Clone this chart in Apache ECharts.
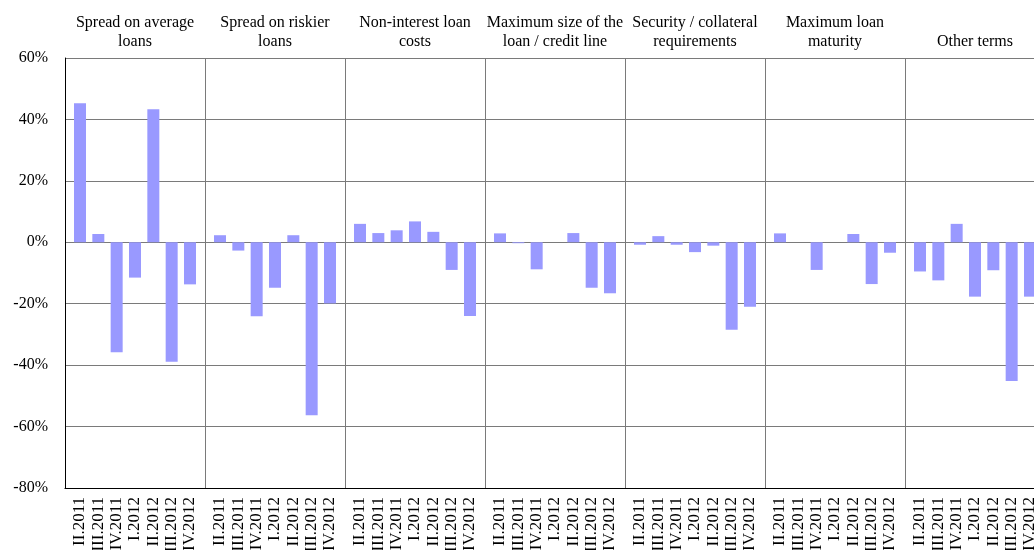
<!DOCTYPE html>
<html>
<head>
<meta charset="utf-8">
<script src="https://cdn.jsdelivr.net/npm/echarts@6/dist/echarts.min.js"></script>
<style>
  html, body { margin: 0; padding: 0; background: #fff; }
  #chart { width: 1034px; height: 550px; }
</style>
</head>
<body>
<div id="chart"></div>
<script>
// Loan terms groups and survey quarters
const groups = [
  'Spread on average\nloans',
  'Spread on riskier\nloans',
  'Non-interest loan\ncosts',
  'Maximum size of the\nloan / credit line',
  'Security / collateral\nrequirements',
  'Maximum loan\nmaturity',
  'Other terms'
];
const quarters = ['II.2011', 'III.2011', 'IV.2011', 'I.2012', 'II.2012', 'III.2012', 'IV.2012'];
const yTicks = [-80, -60, -40, -20, 0, 20, 40, 60];

// Net percentages per group, one value per quarter
const spreadAverage = [45.3, 2.7, -35.8, -11.5, 43.3, -38.9, -13.7];
const spreadRiskier = [2.3, -2.7, -24.1, -14.8, 2.3, -56.3, -19.9];
const nonInterestCosts = [6.0, 3.0, 3.9, 6.8, 3.4, -9.0, -24.0];
const maxLoanSize = [2.9, -0.3, -8.8, 0, 3.0, -14.8, -16.6];
const collateral = [-0.8, 2.0, -0.8, -3.2, -1.1, -28.5, -21.0];
const maxMaturity = [2.9, 0, -9.0, 0, 2.7, -13.6, -3.4];
const otherTerms = [-9.5, -12.4, 6.0, -17.7, -9.1, -45.2, -17.7];

const groupValues = [spreadAverage, spreadRiskier, nonInterestCosts, maxLoanSize, collateral, maxMaturity, otherTerms];

const serif = 'Liberation Serif, Times New Roman, serif';
const plotLeft = 65, plotTop = 58, plotHeight = 430, groupWidth = 140, groupPad = 5.83;
const yMin = yTicks[0], yMax = yTicks[yTicks.length - 1], yStep = yTicks[1] - yTicks[0];

// the last group runs past the right edge of the canvas, so bounds are not clamped
const grid = [{
  left: plotLeft, top: plotTop, width: groupWidth * groups.length, height: plotHeight,
  outerBoundsMode: 'none', containLabel: false
}];
const xAxis = [
  {
    // group titles along the top, with separators between groups
    type: 'category', gridIndex: 0, position: 'top', data: groups,
    axisLine: { show: false }, axisTick: { show: false },
    axisLabel: { interval: 0, margin: 7, fontFamily: serif, fontSize: 16, color: '#000', lineHeight: 19 },
    splitLine: { show: true, interval: 0, lineStyle: { color: '#7a7a7a', width: 1 } }
  },
  {
    // zero line across the whole plot
    type: 'category', gridIndex: 0, position: 'bottom', data: groups,
    axisLine: { show: true, onZero: true, lineStyle: { color: '#000', width: 1.2 } },
    axisTick: { show: false }, axisLabel: { show: false }, splitLine: { show: false }
  }
];
const yAxis = [{
  type: 'value', gridIndex: 0, min: yMin, max: yMax, interval: yStep,
  axisLine: { show: true, lineStyle: { color: '#000', width: 1 } },
  axisTick: { show: false },
  axisLabel: { formatter: '{value}%', margin: 17, fontFamily: serif, fontSize: 16, color: '#000' },
  splitLine: { show: true, lineStyle: { color: '#7a7a7a', width: 1 } }
}];
const series = [];

groupValues.forEach((vals, g) => {
  const gi = g + 1;
  grid.push({
    left: plotLeft + groupWidth * g + groupPad, top: plotTop,
    width: groupWidth - 2 * groupPad, height: plotHeight,
    outerBoundsMode: 'none', containLabel: false
  });
  xAxis.push({
    type: 'category', gridIndex: gi, data: quarters, position: 'bottom',
    axisLine: { show: false, onZero: false }, axisTick: { show: false },
    axisLabel: { interval: 0, rotate: 90, margin: 9, fontFamily: serif, fontSize: 17, color: '#000' },
    splitLine: { show: false }
  });
  yAxis.push({
    type: 'value', gridIndex: gi, min: yMin, max: yMax, interval: yStep, show: false,
    splitLine: { show: false }
  });
  series.push({
    type: 'bar', xAxisIndex: g + 2, yAxisIndex: gi, data: vals,
    barWidth: 12, itemStyle: { color: '#9999ff' }, silent: true, z: 1
  });
});

const chart = echarts.init(document.getElementById('chart'), null, { renderer: 'canvas' });
chart.setOption({
  animation: false,
  backgroundColor: '#fff',
  grid, xAxis, yAxis, series
});
</script>
</body>
</html>
